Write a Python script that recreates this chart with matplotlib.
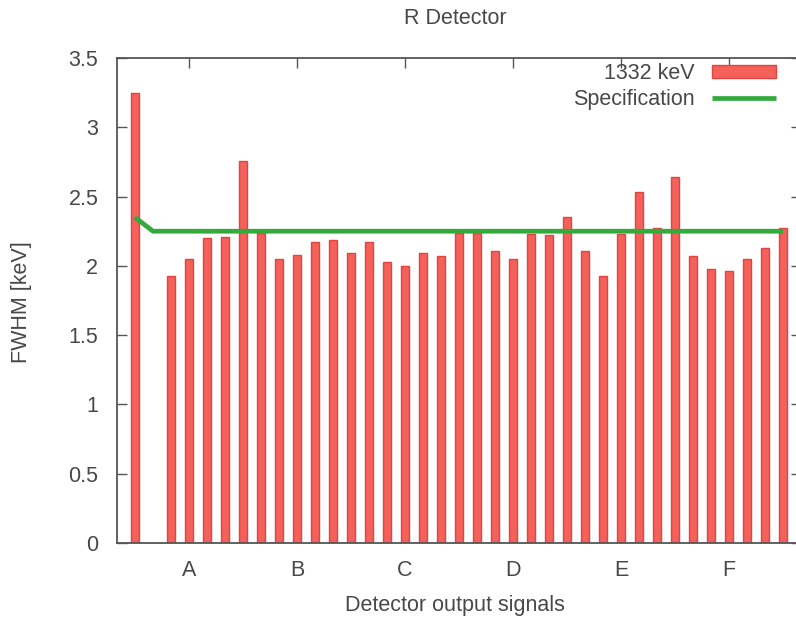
import matplotlib
matplotlib.use("Agg")
import matplotlib.pyplot as plt
import numpy as np

plt.rcParams['font.family'] = ['Liberation Sans', 'DejaVu Sans']

# Data
channels = list(range(37))
fwhm_1332 = [3.25, 0.0, 1.93, 2.05, 2.20, 2.21, 2.76, 2.24, 2.05, 2.08,
             2.17, 2.19, 2.09, 2.17, 2.03, 2.00, 2.09, 2.07, 2.24, 2.24,
             2.11, 2.05, 2.23, 2.22, 2.35, 2.11, 1.93, 2.23, 2.53, 2.27,
             2.64, 2.07, 1.98, 1.96, 2.05, 2.13, 2.27]
spec = [2.35] + [2.25] * 36
group_pos = [3, 9, 15, 21, 27, 33]
group_labels = ['A', 'B', 'C', 'D', 'E', 'F']
yticks = [0, 0.5, 1, 1.5, 2, 2.5, 3, 3.5]
ytick_labels = ['0', '0.5', '1', '1.5', '2', '2.5', '3', '3.5']

W, H = 796, 617
FS = 15.5
fig = plt.figure(figsize=(W / 100, H / 100), dpi=100)
ax = fig.add_axes([117 / W, 1 - 543 / H, (801 - 117) / W, (543 - 58) / H])

txt = '#484848'
bars_x = [c for c, v in zip(channels, fwhm_1332) if v > 0]
bars_v = [v for v in fwhm_1332 if v > 0]
hb = ax.bar(bars_x, bars_v, width=0.45, color='#f4605a', edgecolor='#e2453f',
            linewidth=1.0, label='1332 keV', zorder=2)
hl, = ax.plot(channels, spec, color='#34aa3c', linewidth=3.4, label='Specification',
              zorder=3, solid_capstyle='butt')

ax.set_xlim(-1, 37)
ax.set_ylim(0, 3.5)
ax.set_yticks(yticks)
ax.set_yticklabels(ytick_labels)
ax.set_xticks(group_pos)
ax.set_xticklabels(group_labels)

ax.tick_params(axis='y', direction='in', length=7, width=1.0, color='#555555',
               left=True, right=True, labelsize=FS, labelcolor=txt, pad=13.5)
ax.tick_params(axis='x', direction='in', length=7, width=1.0, color='#555555',
               bottom=False, top=True, labelbottom=True, labelsize=FS,
               labelcolor=txt, pad=12)
for s in ax.spines.values():
    s.set_color('#555555')
    s.set_linewidth(1.3)

fig.text(455 / W, 1 - 18 / H, 'R Detector', ha='center', va='center',
         fontsize=FS, color=txt)
fig.text(22 / W, 1 - 302 / H, 'FWHM [keV]', ha='center', va='center',
         rotation=90, fontsize=FS, color=txt)
fig.text(455 / W, 1 - 605 / H, 'Detector output signals', ha='center',
         va='center', fontsize=FS, color=txt)

leg = ax.legend([hb, hl], ['1332 keV', 'Specification'],
                loc='upper right', bbox_to_anchor=(776 / W, 1 - 63 / H),
                bbox_transform=fig.transFigure, frameon=False,
                markerfirst=False, handlelength=2.95, handleheight=0.6,
                borderpad=0, borderaxespad=0, labelspacing=0.22,
                handletextpad=0.85, fontsize=FS)
for t in leg.get_texts():
    t.set_color(txt)

fig.savefig('out.png', dpi=100)
